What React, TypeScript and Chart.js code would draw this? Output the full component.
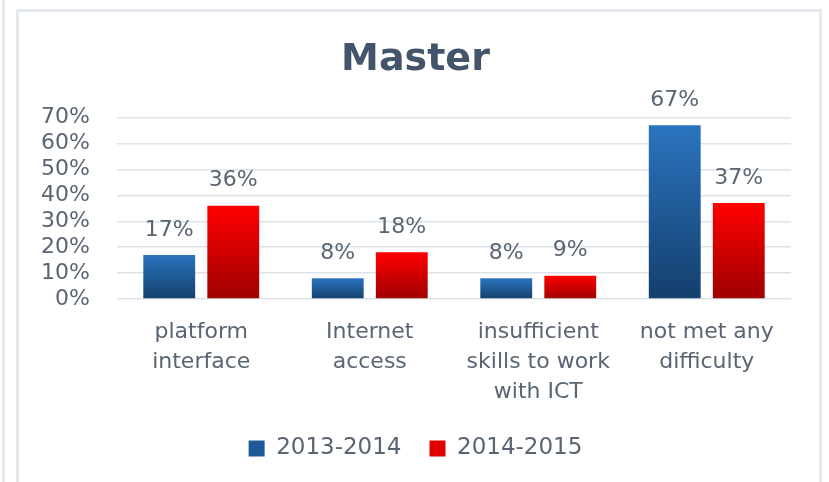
import React, { useEffect, useRef } from "react";
import { Chart, registerables } from "chart.js";

Chart.register(...registerables);

const categories: string[][] = [
  ["platform", "interface"],
  ["Internet", "access"],
  ["insufficient", "skills to work", "with ICT"],
  ["not met any", "difficulty"],
];
const seriesNames = ["2013-2014", "2014-2015"];
const values2013: number[] = [17, 8, 8, 67];
const values2014: number[] = [36, 18, 9, 37];
const yTicks: number[] = [0, 10, 20, 30, 40, 50, 60, 70];

const TEXT = "#5a6573";
const FONT = "'DejaVu Sans', sans-serif";

function barGrad(c: any, top: string, bottom: string) {
  const chart = c.chart;
  const y = chart.scales && chart.scales.y;
  if (!chart.chartArea || !y || c.raw == null) return top;
  const y0 = y.getPixelForValue(c.raw);
  const y1 = y.getPixelForValue(0);
  if (!isFinite(y0) || !isFinite(y1) || y0 === y1) return top;
  const g = chart.ctx.createLinearGradient(0, y0, 0, y1);
  g.addColorStop(0, top);
  g.addColorStop(1, bottom);
  return g;
}

const valueLabels = {
  id: "valueLabels",
  afterDatasetsDraw(chart: any) {
    const { ctx } = chart;
    ctx.save();
    ctx.font = `22px ${FONT}`;
    ctx.fillStyle = TEXT;
    ctx.textAlign = "center";
    ctx.textBaseline = "middle";
    chart.data.datasets.forEach((ds: any, i: number) => {
      const meta = chart.getDatasetMeta(i);
      meta.data.forEach((bar: any, j: number) => {
        ctx.fillText(ds.data[j] + "%", bar.x, bar.y - 25);
      });
    });
    ctx.restore();
  },
};

export default function App() {
  const ref = useRef<HTMLCanvasElement>(null);
  useEffect(() => {
    const canvas = ref.current!;
    const chart = new Chart(canvas, {
      type: "bar",
      data: {
        labels: categories,
        datasets: [
          {
            label: seriesNames[0],
            data: values2013,
            backgroundColor: (c: any) => barGrad(c, "#2a74be", "#143f6d"),
            categoryPercentage: 0.76,
            barPercentage: 0.81,
          },
          {
            label: seriesNames[1],
            data: values2014,
            backgroundColor: (c: any) => barGrad(c, "#ff0000", "#9e0000"),
            categoryPercentage: 0.76,
            barPercentage: 0.81,
          },
        ],
      },
      options: {
        animation: false,
        responsive: false,
        layout: { padding: { left: 40, right: 38, top: 0, bottom: 12 } },
        plugins: {
          title: {
            display: true,
            text: "Master",
            color: "#44546a",
            font: { family: FONT, size: 38, weight: "bold" },
            padding: { top: 37, bottom: 35 },
          },
          legend: {
            position: "bottom",
            labels: {
              color: TEXT,
              font: { family: FONT, size: 23 },
              boxWidth: 16,
              boxHeight: 16,
              padding: 28,
              generateLabels: () =>
                seriesNames.map((n, i) => ({
                  text: n,
                  fillStyle: i === 0 ? "#1f5a98" : "#e00000",
                  strokeStyle: i === 0 ? "#1f5a98" : "#e00000",
                  lineWidth: 0,
                  datasetIndex: i,
                  fontColor: TEXT,
                })),
            },
          },
          tooltip: { enabled: false },
        },
        scales: {
          x: {
            grid: { display: false, drawTicks: false },
            border: { display: false },
            ticks: {
              color: TEXT,
              font: { family: FONT, size: 22, lineHeight: 1.36 },
              padding: 18,
              maxRotation: 0,
              autoSkip: false,
            },
            afterFit: (s: any) => {
              s.height = 110;
            },
          },
          y: {
            min: 0,
            max: 70,
            afterBuildTicks: (s: any) => {
              s.ticks = yTicks.map((v) => ({ value: v }));
            },
            grid: { color: "#dde3ea", lineWidth: 1.5, drawTicks: false },
            border: { display: false },
            ticks: {
              color: TEXT,
              font: { family: FONT, size: 22 },
              padding: 27,
              autoSkip: false,
              callback: (v: any) => v + "%",
            },
            afterFit: (s: any) => {
              s.width = 77;
            },
          },
        },
      },
      plugins: [valueLabels],
    } as any);
    return () => chart.destroy();
  }, []);

  return (
    <div style={{ position: "fixed", left: 0, top: 0, width: 829, height: 482, background: "#fff", overflow: "hidden" }}>
      <div style={{ position: "absolute", left: 2, top: 0, width: 3, height: 482, background: "#e3e8ef" }} />
      <div
        style={{
          position: "absolute",
          left: 16,
          top: 9,
          width: 806,
          height: 490,
          border: "3px solid #e3e8ef",
          boxSizing: "border-box",
        }}
      />
      <canvas ref={ref} width={829} height={482} style={{ position: "absolute", left: 0, top: 0 }} />
    </div>
  );
}
